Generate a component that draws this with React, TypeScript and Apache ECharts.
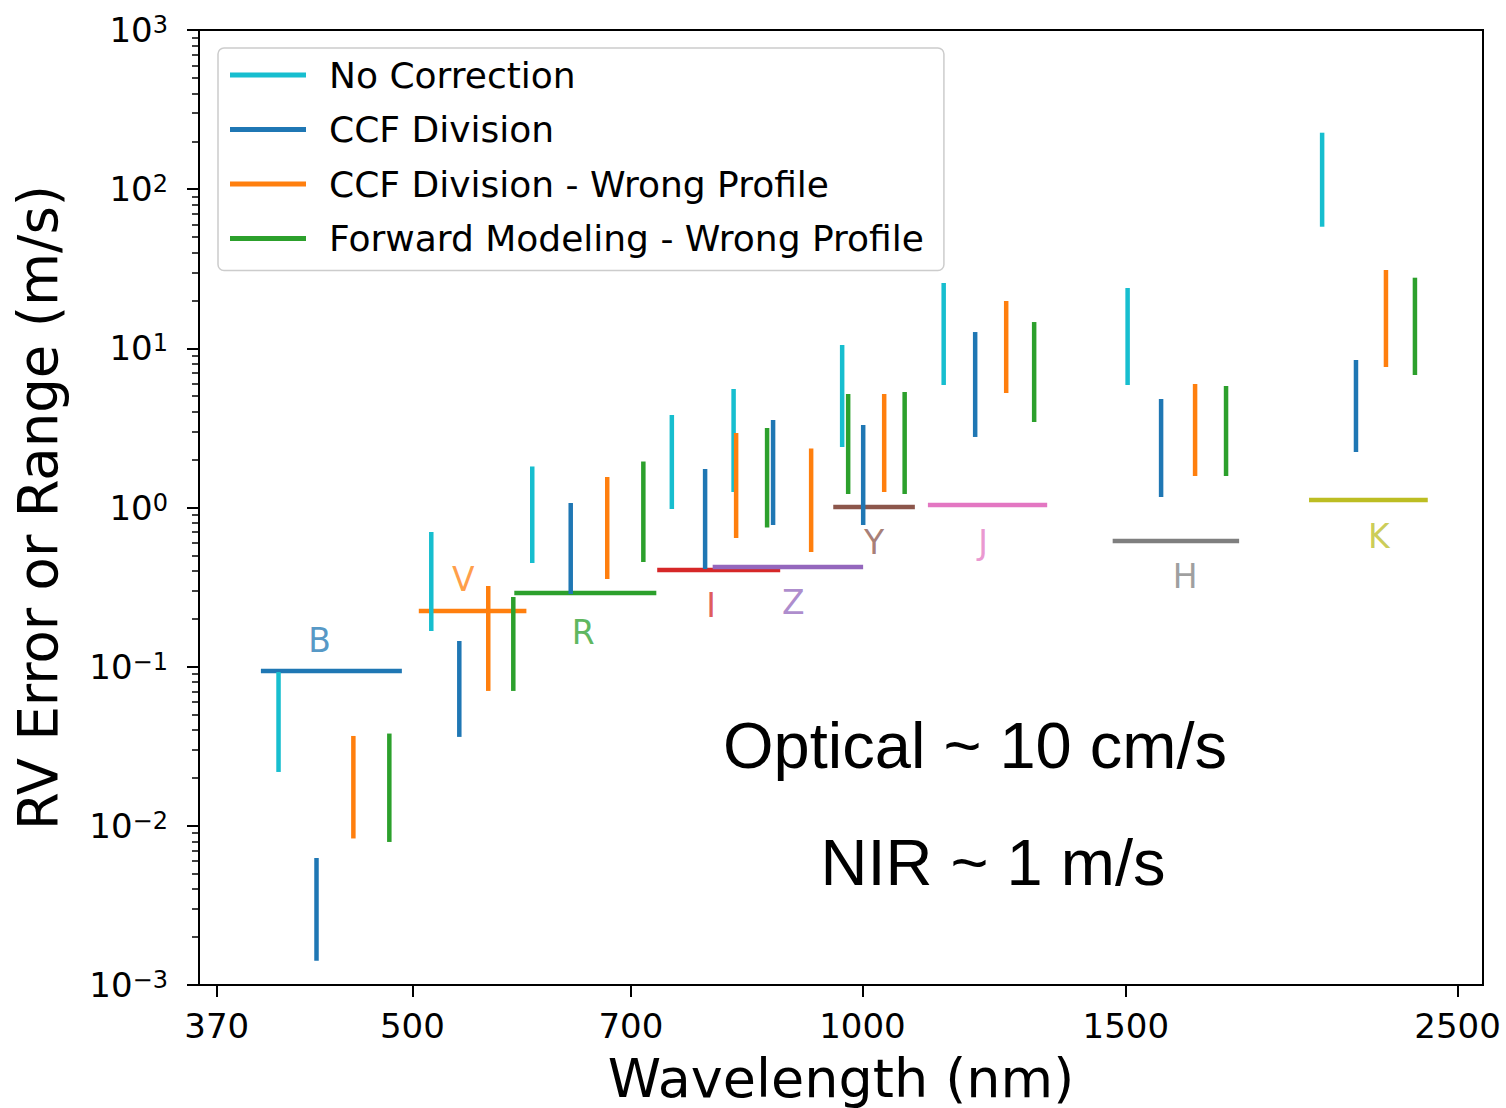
import React, { useEffect, useRef } from 'react';
import * as echarts from 'echarts';

// ---- Data ----
const METHODS = [
  'No Correction',
  'CCF Division',
  'CCF Division - Wrong Profile',
  'Forward Modeling - Wrong Profile',
];

// No Correction
const noCorrWave = [406.9, 514.8, 601.4, 745.6, 820.0, 969.2, 1133.2, 1504.2, 2029.5];
const noCorrLo = [0.0218, 0.1675, 0.4481, 0.9785, 1.251, 2.399, 5.885, 5.885, 58.08];
const noCorrHi = [0.0926, 0.7016, 1.81, 3.813, 5.553, 10.49, 25.73, 23.93, 226.3];

// CCF Division
const ccfWave = [431.4, 537.5, 638.1, 784.8, 871.4, 1001.1, 1189.5, 1583.8, 2138.1];
const ccfLo = [0.00142, 0.0362, 0.2861, 0.4108, 0.7764, 0.7764, 2.774, 1.164, 2.232];
const ccfHi = [0.00628, 0.145, 1.067, 1.745, 3.546, 3.298, 12.66, 4.805, 8.448];

// CCF Division - Wrong Profile
const ccfWrongWave = [456.6, 562.0, 675.0, 823.2, 924.0, 1034.0, 1247.7, 1668.9, 2239.1];
const ccfWrongLo = [0.00833, 0.0704, 0.3554, 0.6435, 0.5254, 1.251, 5.241, 1.577, 7.632];
const ccfWrongHi = [0.0367, 0.3212, 1.554, 2.938, 2.348, 5.166, 19.83, 5.97, 31.05];

// Forward Modeling - Wrong Profile
const fwdWave = [482.6, 584.1, 713.6, 863.4, 978.2, 1067.1, 1302.6, 1750.4, 2341.3];
const fwdLo = [0.00792, 0.0704, 0.4546, 0.7488, 1.216, 1.216, 3.444, 1.577, 6.8];
const fwdHi = [0.038, 0.274, 1.945, 3.159, 5.166, 5.318, 14.63, 5.8, 27.78];

// Photometric bands
const bandNames = ['B', 'V', 'R', 'I', 'Z', 'Y', 'J', 'H', 'K'];
const bandLo = [396, 505, 585, 729, 794, 956, 1106, 1470, 1989];
const bandHi = [492, 596, 728, 881, 1001, 1084, 1329, 1786, 2388];
const bandLevel = [0.0939, 0.2238, 0.2903, 0.4049, 0.4229, 1.007, 1.037, 0.616, 1.115];
const labelWave = [433.5, 540.9, 650.6, 792.1, 898.8, 1018.2, 1204.3, 1643.4, 2214.7];
const labelRv = [0.145, 0.3504, 0.1651, 0.244, 0.2548, 0.607, 0.607, 0.3712, 0.6527];

// Axes
const xTickWaves = [370, 500, 700, 1000, 1500, 2500];
const xMin = 360;
const xMax = 2600;
const yMinExp = -3;
const yMaxExp = 3;

// ---- Styles ----
const methodColors = ['#17becf', '#1f77b4', '#ff7f0e', '#2ca02c'];
const bandColors = ['#1f77b4', '#ff7f0e', '#2ca02c', '#d62728', '#9467bd', '#8c564b', '#e377c2', '#7f7f7f', '#bcbd22'];
const FONT = 'DejaVu Sans';
const LW = 4.5;

const lg = Math.log10;

const methodSets = [
  [noCorrWave, noCorrLo, noCorrHi],
  [ccfWave, ccfLo, ccfHi],
  [ccfWrongWave, ccfWrongLo, ccfWrongHi],
  [fwdWave, fwdLo, fwdHi],
];

const minorTicks: number[] = [];
for (let e = yMinExp; e < yMaxExp; e++) {
  for (let k = 2; k <= 9; k++) minorTicks.push(lg(k * Math.pow(10, e)));
}

function buildOption() {
  const bandSeries = {
    type: 'custom',
    name: 'bands',
    silent: true,
    encode: { x: [0, 1, 3], y: [2, 4] },
    data: bandNames.map((_, i) => [lg(bandLo[i]), lg(bandHi[i]), lg(bandLevel[i]), lg(labelWave[i]), lg(labelRv[i])]),
    renderItem: (params: any, api: any) => {
      const i = params.dataIndex;
      const a = api.coord([api.value(0), api.value(2)]);
      const b = api.coord([api.value(1), api.value(2)]);
      const t = api.coord([api.value(3), api.value(4)]);
      return {
        type: 'group',
        children: [
          {
            type: 'line',
            shape: { x1: a[0], y1: a[1], x2: b[0], y2: b[1] },
            style: { stroke: bandColors[i], lineWidth: LW, lineCap: 'butt' },
          },
          {
            type: 'text',
            x: t[0],
            y: t[1],
            style: {
              text: bandNames[i],
              fill: bandColors[i],
              opacity: 0.75,
              fontSize: 33,
              fontFamily: FONT,
              align: 'center',
              verticalAlign: 'middle',
            },
          },
        ],
      };
    },
  };

  const methodSeries = METHODS.map((name, m) => {
    const [w, lo, hi] = methodSets[m];
    return {
      type: 'custom',
      name,
      itemStyle: { color: methodColors[m] },
      encode: { x: 0, y: [1, 2] },
      data: w.map((x, i) => [lg(x), lg(lo[i]), lg(hi[i])]),
      renderItem: (params: any, api: any) => {
        const p1 = api.coord([api.value(0), api.value(1)]);
        const p2 = api.coord([api.value(0), api.value(2)]);
        return {
          type: 'line',
          shape: { x1: p1[0], y1: p1[1], x2: p2[0], y2: p2[1] },
          style: { stroke: methodColors[m], lineWidth: LW, lineCap: 'butt' },
        };
      },
    };
  });

  return {
    animation: false,
    backgroundColor: '#ffffff',
    grid: {
      left: 199,
      top: 30,
      right: 23,
      bottom: 123,
      containLabel: false,
      outerBoundsMode: 'none',
      show: true,
      borderColor: '#000',
      borderWidth: 2,
      backgroundColor: 'transparent',
    },
    legend: {
      orient: 'vertical',
      left: 218,
      top: 48,
      selectedMode: false,
      data: METHODS.map((n) => ({ name: n, icon: 'rect' })),
      itemWidth: 76,
      itemHeight: 5,
      itemGap: 14.5,
      padding: [7, 20, 12, 12],
      backgroundColor: 'rgba(255,255,255,0.8)',
      borderColor: '#cccccc',
      borderWidth: 1.5,
      borderRadius: 6,
      textStyle: {
        fontSize: 36,
        fontFamily: FONT,
        color: '#000',
        lineHeight: 40,
        padding: [0, 0, 0, 18],
      },
    },
    xAxis: {
      type: 'value',
      min: lg(xMin),
      max: lg(xMax),
      name: 'Wavelength (nm)',
      nameLocation: 'middle',
      nameGap: 66,
      nameTextStyle: { fontSize: 54, fontFamily: FONT, color: '#000' },
      splitLine: { show: false },
      axisLine: { show: true, onZero: false, lineStyle: { color: '#000', width: 2 } },
      axisTick: {
        show: true,
        length: 12,
        lineStyle: { color: '#000', width: 2 },
        customValues: xTickWaves.map(lg),
      },
      axisLabel: {
        customValues: xTickWaves.map(lg),
        formatter: (v: number) => String(Math.round(Math.pow(10, v))),
        fontSize: 34,
        fontFamily: FONT,
        color: '#000',
        margin: 24,
      },
    },
    yAxis: [
      {
        type: 'value',
        min: yMinExp,
        max: yMaxExp,
        interval: 1,
        name: 'RV Error or Range (m/s)',
        nameLocation: 'middle',
        nameGap: 134,
        nameTextStyle: { fontSize: 54.5, fontFamily: FONT, color: '#000' },
        splitLine: { show: false },
        axisLine: { show: true, onZero: false, lineStyle: { color: '#000', width: 2 } },
        axisTick: { show: true, length: 12, lineStyle: { color: '#000', width: 2 } },
        axisLabel: {
          showMinLabel: true,
          showMaxLabel: true,
          margin: 31,
          formatter: (v: number) => {
            const n = Math.round(v);
            return '{b|10}{s|' + (n < 0 ? '\u2212' + -n : String(n)) + '}';
          },
          rich: {
            b: { fontSize: 34, fontFamily: FONT, color: '#000' },
            s: { fontSize: 24, fontFamily: FONT, color: '#000', verticalAlign: 'top' },
          },
        },
      },
      {
        type: 'value',
        min: yMinExp,
        max: yMaxExp,
        position: 'left',
        splitLine: { show: false },
        axisLine: { show: false },
        axisLabel: { show: false },
        axisTick: {
          show: true,
          length: 7,
          lineStyle: { color: '#000', width: 1.5 },
          customValues: minorTicks,
        },
      },
    ],
    graphic: [
      {
        type: 'text',
        x: 975,
        y: 745,
        style: {
          text: 'Optical ~ 10 cm/s',
          fontSize: 65,
          fontFamily: 'Liberation Sans',
          fill: '#000',
          align: 'center',
          verticalAlign: 'middle',
        },
      },
      {
        type: 'text',
        x: 993,
        y: 862,
        style: {
          text: 'NIR ~ 1 m/s',
          fontSize: 65,
          fontFamily: 'Liberation Sans',
          fill: '#000',
          align: 'center',
          verticalAlign: 'middle',
        },
      },
    ],
    series: [bandSeries, ...methodSeries],
  };
}

export default function App() {
  const ref = useRef<HTMLDivElement>(null);
  useEffect(() => {
    if (!ref.current) return;
    const chart = echarts.init(ref.current, null, { renderer: 'svg' });
    chart.setOption(buildOption() as any);
    return () => chart.dispose();
  }, []);
  return (
    <div
      ref={ref}
      style={{ position: 'fixed', left: 0, top: 0, width: 1506, height: 1108, background: '#fff' }}
    />
  );
}
